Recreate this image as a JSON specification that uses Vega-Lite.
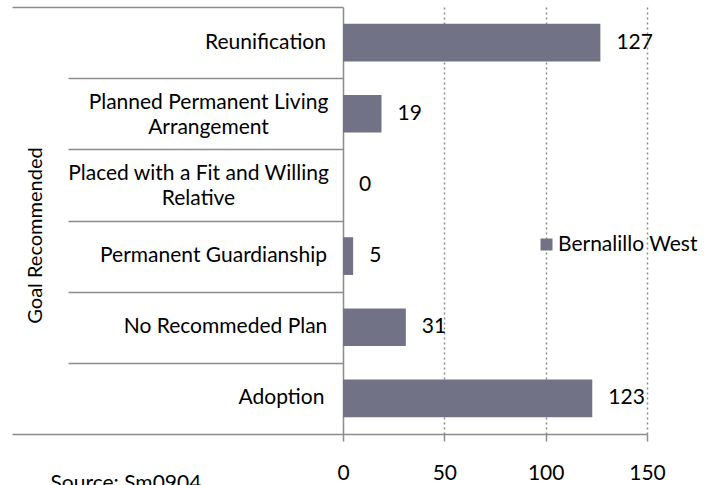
{
  "$schema": "https://vega.github.io/schema/vega-lite/v6.json",
  "width": 304,
  "height": 427,
  "autosize": {"type": "none"},
  "padding": {"left": 343, "top": 7, "right": 66, "bottom": 51},
  "config": {"view": {"stroke": null}, "font": "Lato", "text": {"font": "Lato"}},
  "data": {
    "values": [
      {"goal": "Reunification", "count": 127, "series": "Bernalillo West"},
      {"goal": "Planned Permanent Living Arrangement", "count": 19, "series": "Bernalillo West"},
      {"goal": "Placed with a Fit and Willing Relative", "count": 0, "series": "Bernalillo West"},
      {"goal": "Permanent Guardianship", "count": 5, "series": "Bernalillo West"},
      {"goal": "No Recommeded Plan", "count": 31, "series": "Bernalillo West"},
      {"goal": "Adoption", "count": 123, "series": "Bernalillo West"}
    ]
  },
  "layer": [
    {
      "mark": {"type": "bar", "height": {"band": 0.53}},
      "encoding": {
        "y": {
          "field": "goal",
          "type": "nominal",
          "sort": ["Reunification", "Planned Permanent Living Arrangement", "Placed with a Fit and Willing Relative", "Permanent Guardianship", "No Recommeded Plan", "Adoption"],
          "scale": {"paddingInner": 0, "paddingOuter": 0},
          "axis": {
            "orient": "left",
            "ticks": false,
            "domain": true,
            "domainColor": "#8c8c8c",
            "domainWidth": 1.5,
            "grid": false,
            "labelAlign": "center",
            "labelBaseline": "middle",
            "labelFontSize": 21,
            "labelColor": "#000000",
            "labelLimit": 0,
            "labelLineHeight": 25,
            "labelExpr": "datum.label == 'Planned Permanent Living Arrangement' ? ['Planned Permanent Living', 'Arrangement'] : datum.label == 'Placed with a Fit and Willing Relative' ? ['Placed with a Fit and Willing', 'Relative'] : datum.label",
            "labelOffset": {
              "condition": {"test": "datum.value === 'Planned Permanent Living Arrangement' || datum.value === 'Placed with a Fit and Willing Relative'", "value": -11},
              "value": 0
            },
            "labelPadding": {
              "condition": [
                {"test": "datum.value === 'Reunification'", "value": 78},
                {"test": "datum.value === 'Planned Permanent Living Arrangement'", "value": 135},
                {"test": "datum.value === 'Placed with a Fit and Willing Relative'", "value": 145},
                {"test": "datum.value === 'Permanent Guardianship'", "value": 130},
                {"test": "datum.value === 'No Recommeded Plan'", "value": 118},
                {"test": "datum.value === 'Adoption'", "value": 62}
              ],
              "value": 100
            },
            "title": "Goal Recommended",
            "titleX": -308,
            "titleY": 228,
            "titleAngle": -90,
            "titleAlign": "center",
            "titleBaseline": "middle",
            "titleFontSize": 20,
            "titleFontWeight": "normal",
            "titleColor": "#000000"
          }
        },
        "x": {
          "field": "count",
          "type": "quantitative",
          "scale": {"domain": [0, 150], "nice": false, "zero": true},
          "axis": {
            "values": [0, 50, 100, 150],
            "grid": true,
            "gridDash": [2, 3],
            "gridColor": "#8c8c8c",
            "gridWidth": 1.5,
            "gridOpacity": {"condition": {"test": "datum.value === 0", "value": 0}, "value": 1},
            "domainColor": "#8c8c8c",
            "domainWidth": 1.5,
            "tickSize": 7,
            "tickColor": "#8c8c8c",
            "tickWidth": 1.5,
            "labelFontSize": 21,
            "labelColor": "#000000",
            "labelPadding": 21,
            "labelFlush": false,
            "title": "Source: Sm0904",
            "titleX": -293,
            "titleY": 55,
            "titleAlign": "left",
            "titleBaseline": "alphabetic",
            "titleFontSize": 21,
            "titleFontWeight": "normal",
            "titleColor": "#000000"
          }
        },
        "color": {
          "field": "series",
          "type": "nominal",
          "scale": {"range": ["#727286"]},
          "legend": {
            "orient": "none",
            "legendX": 193,
            "legendY": 227,
            "title": null,
            "symbolType": "square",
            "symbolSize": 144,
            "symbolStrokeWidth": 0,
            "labelFontSize": 21,
            "labelColor": "#000000",
            "labelOffset": 1,
            "padding": 0
          }
        }
      }
    },
    {
      "mark": {"type": "text", "align": "left", "baseline": "middle", "dx": 16, "fontSize": 21, "color": "#000000"},
      "encoding": {
        "y": {
          "field": "goal",
          "type": "nominal",
          "sort": ["Reunification", "Planned Permanent Living Arrangement", "Placed with a Fit and Willing Relative", "Permanent Guardianship", "No Recommeded Plan", "Adoption"],
          "axis": {
            "orient": "left",
            "labels": false,
            "domain": false,
            "ticks": true,
            "tickBand": "extent",
            "tickSize": {"condition": {"test": "datum.value === 'Adoption' || datum.extra", "value": 331}, "value": 275},
            "tickColor": "#8c8c8c",
            "tickWidth": 1.5,
            "grid": false,
            "title": null
          }
        },
        "x": {"field": "count", "type": "quantitative"},
        "text": {"field": "count", "type": "quantitative"}
      }
    }
  ],
  "resolve": {"axis": {"y": "independent"}}
}
